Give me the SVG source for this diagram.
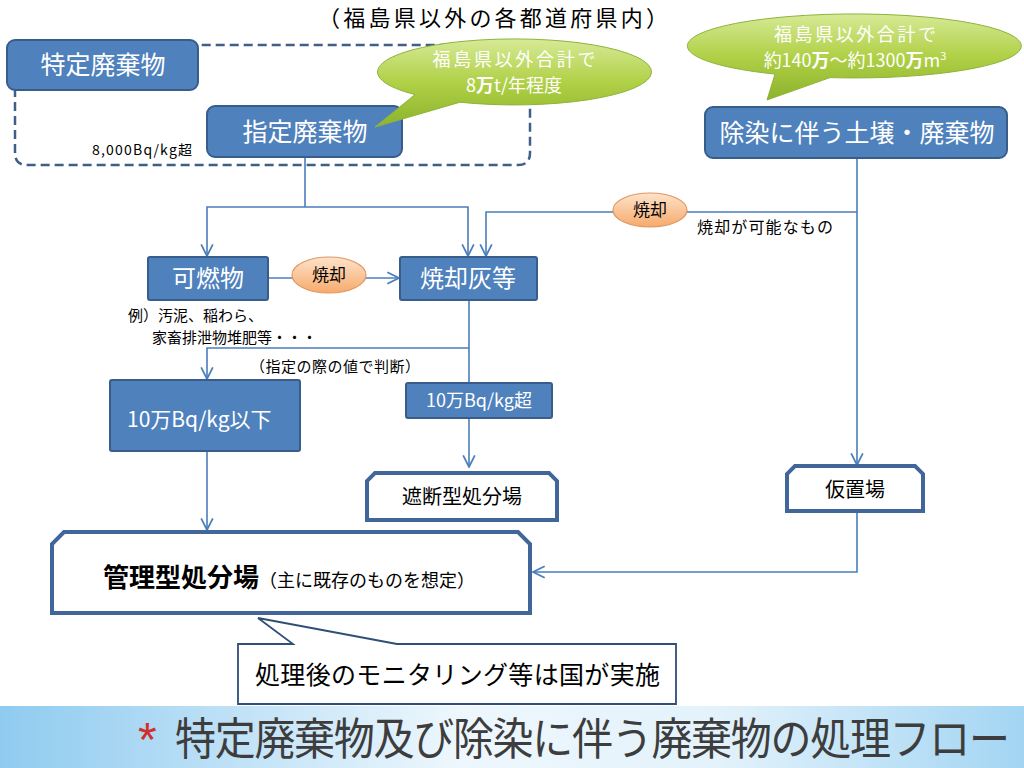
<svg xmlns="http://www.w3.org/2000/svg" width="1024" height="768" viewBox="0 0 1024 768">
<defs>
<style>
.jp{font-family:"Noto Sans CJK JP","Noto Sans CJK SC",sans-serif}
.box{fill:#4f81bd;stroke:#385d8a;stroke-width:2}
.wt{fill:#ffffff}
.bk{fill:#000000}
.conn{fill:none;stroke:#4a7ebb;stroke-width:1.6}
.green{fill:url(#gGreen);stroke:#8fb33a;stroke-width:1}
.orange{fill:url(#gOrange);stroke:#e09760;stroke-width:1.2}
.snipOut{fill:#ffffff;stroke:#41669a;stroke-width:4}
.snipIn{fill:none;stroke:#ffffff;stroke-width:1.2}
</style>
<linearGradient id="gGreen" x1="0" y1="0" x2="0" y2="1">
<stop offset="0" stop-color="#d6ea96"/>
<stop offset="0.5" stop-color="#b0d046"/>
<stop offset="1" stop-color="#8cb32c"/>
</linearGradient>
<linearGradient id="gOrange" x1="0" y1="0" x2="0" y2="1">
<stop offset="0" stop-color="#fde3cb"/>
<stop offset="1" stop-color="#f7aa6c"/>
</linearGradient>
<linearGradient id="gBand" x1="0" y1="0" x2="1" y2="0">
<stop offset="0" stop-color="#8fcbf0"/>
<stop offset="0.45" stop-color="#eef7fd"/>
<stop offset="0.7" stop-color="#e3f2fb"/>
<stop offset="1" stop-color="#a3d5f3"/>
</linearGradient>
<marker id="arr" markerUnits="userSpaceOnUse" markerWidth="14" markerHeight="14" viewBox="0 0 12 12" refX="11" refY="6" orient="auto">
<path d="M1,1 L11,6 L1,11" fill="none" stroke="#4a7ebb" stroke-width="1.5"/>
</marker>
</defs>
<rect width="1024" height="768" fill="#ffffff"/>

<text class="jp bk" x="318" y="26" font-size="22" textLength="350">（福島県以外の各都道府県内）</text>

<g id="group-dashed">
<path d="M15,60 V153 Q15,165 27,165 H518 Q530,165 530,153 V45 H60" fill="none" stroke="#3f5f8a" stroke-width="2.5" stroke-dasharray="9,5"/>
</g>

<g id="connectors">
<path class="conn" d="M305,157 V207"/>
<path class="conn" d="M305,207 H207 V256" marker-end="url(#arr)"/>
<path class="conn" d="M305,207 H468 V256" marker-end="url(#arr)"/>
<path class="conn" d="M857,158 V465" marker-end="url(#arr)"/>
<path class="conn" d="M857,212 H486 V256" marker-end="url(#arr)"/>
<path class="conn" d="M268,278 H399" marker-end="url(#arr)"/>
<path class="conn" d="M469,300 V383"/>
<path class="conn" d="M469,348 H207 V379" marker-end="url(#arr)"/>
<path class="conn" d="M469,418 V467" marker-end="url(#arr)"/>
<path class="conn" d="M207,451 V530" marker-end="url(#arr)"/>
<path class="conn" d="M857,511 V572 H533" marker-end="url(#arr)"/>
</g>

<g id="node-tokutei">
<rect class="box" x="7" y="40" width="191" height="50" rx="8"/>
<text class="jp wt" x="103" y="74" font-size="25" text-anchor="middle">特定廃棄物</text>
</g>

<g id="node-shitei">
<rect class="box" x="207" y="106" width="195" height="51" rx="8"/>
<text class="jp wt" x="305" y="141" font-size="25" text-anchor="middle">指定廃棄物</text>
</g>

<text class="jp bk" x="92" y="155" font-size="14" textLength="100">8,000Bq/kg超</text>

<g id="callout-8man">
<path class="green" d="M415,94.6 L375,127 L460,102.2 A137,33 0 1 0 415,94.6 Z"/>
<text class="jp wt" x="514" y="66" font-size="18" textLength="163" text-anchor="middle">福島県以外合計で</text>
<text class="jp wt" x="514" y="92" font-size="18" text-anchor="middle">8<tspan font-weight="bold">万</tspan>t/年程度</text>
</g>

<g id="callout-140man">
<path class="green" d="M775,74.1 L767,100 L830,77.6 A167,32 0 1 0 775,74.1 Z"/>
<text class="jp wt" x="855" y="41" font-size="18" textLength="162" text-anchor="middle">福島県以外合計で</text>
<text class="jp wt" x="855" y="67" font-size="18" text-anchor="middle">約140<tspan font-weight="bold">万</tspan>～約1300<tspan font-weight="bold">万</tspan>m<tspan font-size="11" dy="-7">3</tspan></text>
</g>

<g id="node-josen">
<rect class="box" x="705" y="107" width="302" height="51" rx="8"/>
<text class="jp wt" x="857" y="142" font-size="25" text-anchor="middle">除染に伴う土壌・廃棄物</text>
</g>

<g id="node-shokyaku2">
<ellipse class="orange" cx="650" cy="210" rx="37" ry="17"/>
<text class="jp bk" x="650" y="216" font-size="17" text-anchor="middle">焼却</text>
</g>
<text class="jp bk" x="697" y="233" font-size="16" textLength="136">焼却が可能なもの</text>

<g id="node-kanen">
<rect class="box" x="148" y="257" width="120" height="43" rx="2"/>
<text class="jp wt" x="208" y="287" font-size="24" text-anchor="middle">可燃物</text>
</g>

<g id="node-shokyaku1">
<ellipse class="orange" cx="329" cy="275" rx="37" ry="18"/>
<text class="jp bk" x="329" y="281" font-size="17" text-anchor="middle">焼却</text>
</g>

<g id="node-shokyakubai">
<rect class="box" x="400" y="257" width="137" height="43" rx="2"/>
<text class="jp wt" x="468" y="287" font-size="24" text-anchor="middle">焼却灰等</text>
</g>

<text class="jp bk" x="128" y="321" font-size="15">例）汚泥、稲わら、</text>
<text class="jp bk" x="152" y="343" font-size="15">家畜排泄物堆肥等・・・</text>
<text class="jp bk" x="250" y="372" font-size="15" textLength="170">（指定の際の値で判断）</text>

<g id="node-ika">
<rect class="box" x="110" y="380" width="190" height="71" rx="2"/>
<text class="jp wt" x="127" y="427" font-size="21">10万Bq/kg以下</text>
</g>

<g id="node-cho">
<rect class="box" x="406" y="383" width="146" height="35" rx="2"/>
<text class="jp wt" x="479" y="407" font-size="18" text-anchor="middle">10万Bq/kg超</text>
</g>

<g id="node-shadan">
<path class="snipOut" d="M375,473 H549 L557,481 V520 H367 V481 Z"/>
<path class="snipIn" d="M376,476 H548 L554,482 V517 H370 V482 Z"/>
<text class="jp bk" x="462" y="504" font-size="20" text-anchor="middle">遮断型処分場</text>
</g>

<g id="node-karioki">
<path class="snipOut" d="M795,466 H915 L923,474 V511 H787 V474 Z"/>
<path class="snipIn" d="M796,469 H914 L920,475 V508 H790 V475 Z"/>
<text class="jp bk" x="855" y="497" font-size="20" text-anchor="middle">仮置場</text>
</g>

<g id="node-kanri">
<path class="snipOut" d="M64,532 H518 L530,544 V613 H52 V544 Z" stroke-width="5"/>
<path class="snipIn" d="M65,536 H517 L526,545 V609 H56 V545 Z"/>
<text class="jp bk" x="103" y="587"><tspan font-size="26" font-weight="bold">管理型処分場</tspan><tspan font-size="18">（主に既存のものを想定）</tspan></text>
</g>

<g id="callout-monitoring">
<path d="M238,644 H293 L258,618 L397,644 H676 V704 H238 Z" fill="#ffffff" stroke="#2f4f77" stroke-width="1.8"/>
<text class="jp bk" x="255" y="684" font-size="25" textLength="405">処理後のモニタリング等は国が実施</text>
</g>

<g id="title-band">
<rect x="0" y="706" width="1024" height="62" fill="url(#gBand)"/>
<text x="138" y="756" font-family="Liberation Sans, sans-serif" font-size="48" fill="#d0312d">*</text>
<text class="jp" x="175" y="0" font-size="41" fill="#3d3d3d" textLength="835" transform="translate(0,755) scale(1,1.08)">特定廃棄物及び除染に伴う廃棄物の処理フロー</text>
</g>
</svg>
